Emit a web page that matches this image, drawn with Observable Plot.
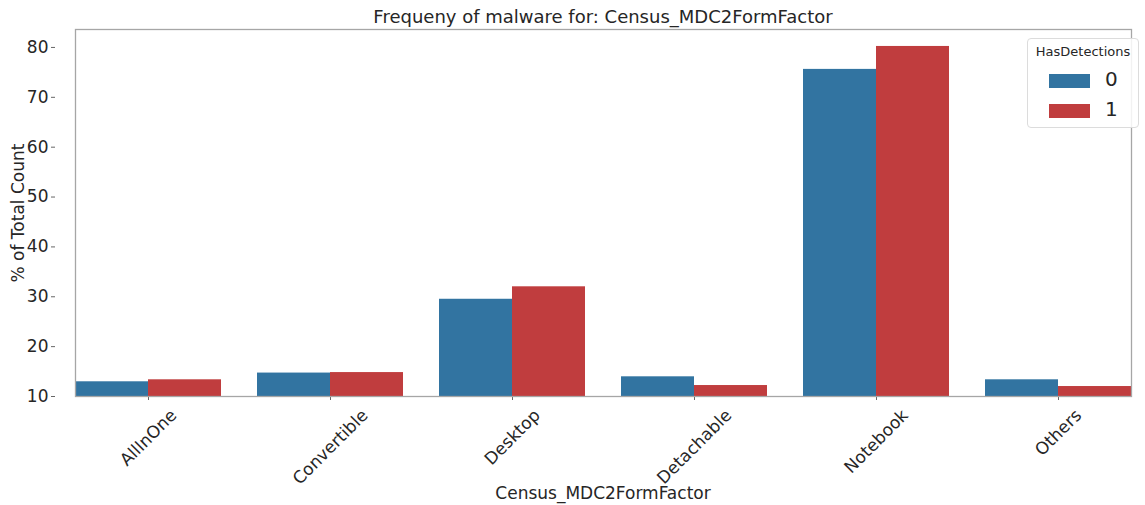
<!DOCTYPE html>
<html><head><meta charset="utf-8">
<script src="https://cdn.jsdelivr.net/npm/d3@7"></script>
<script src="https://cdn.jsdelivr.net/npm/@observablehq/plot@0.6"></script>
<style>
html,body{margin:0;padding:0;background:#fff;overflow:hidden;}
#wrap{position:relative;width:1145px;height:505px;overflow:hidden;font-family:"DejaVu Sans",sans-serif;color:#262626;}
#wrap svg{position:absolute;left:0;top:0;max-width:none !important;}
.title{position:absolute;left:0;width:1206px;top:6px;text-align:center;font-size:18px;white-space:nowrap;}
.xlabel{position:absolute;left:0;width:1206px;top:483px;text-align:center;font-size:17px;white-space:nowrap;}
.ylabel{position:absolute;left:18px;top:213px;transform:translate(-50%,-50%) rotate(-90deg);font-size:17px;white-space:nowrap;}
.legend{position:absolute;left:1027px;top:38px;width:112px;height:90px;border:1px solid #dcdcdc;border-radius:4px;background:rgba(255,255,255,0.85);box-sizing:border-box;}
.legend .lt{position:absolute;left:0;width:100%;top:5px;text-align:center;font-size:13px;}
.legend .row{position:absolute;left:21px;height:20px;}
.legend .sw{position:absolute;left:0;top:3px;width:41px;height:14px;}
.legend .lab{position:absolute;left:56px;top:-4px;font-size:20px;line-height:24px;}
</style>
</head><body>
<div id="wrap"></div>
<script>
const categories = ["AllInOne","Convertible","Desktop","Detachable","Notebook","Others"];
const detections = ["0","1"];
const pct0 = [12.95, 14.7, 29.5, 13.95, 75.6, 13.35];
const pct1 = [13.35, 14.8, 32.0, 12.2, 80.2, 12.0];
const colors = ["#3274a1","#c03d3e"];
const yTicks = [10,20,30,40,50,60,70,80];
const titleText = "Frequeny of malware for: Census_MDC2FormFactor";
const xLabel = "Census_MDC2FormFactor";
const yLabel = "% of Total Count";
const legendTitle = "HasDetections";

const rows = [];
categories.forEach((c,i)=>{
  rows.push({cat:c, det:detections[0], pct:pct0[i]});
  rows.push({cat:c, det:detections[1], pct:pct1[i]});
});

const wrap = document.getElementById("wrap");
const ML = 55;
const plot = Plot.plot({
  width: 1150, height: 505,
  marginLeft: ML, marginRight: 0, marginTop: 29, marginBottom: 109,
  style: {fontFamily: "DejaVu Sans, sans-serif", fontSize: "17px", color: "#262626", background: "transparent"},
  fx: {domain: categories, paddingInner: 0.2, paddingOuter: 0.1, label: null},
  x: {domain: detections, padding: 0, axis: null},
  y: {domain: [10, 83.6], label: null},
  color: {domain: detections, range: colors},
  marks: [
    Plot.barY(rows, {fx: "cat", x: "det", y: "pct", fill: "det", clip: true}),
    Plot.axisY({ticks: yTicks, tickSize: 4, tickPadding: 3, label: null, fontSize: 17, stroke: "#666"}),
    Plot.axisFx({anchor: "bottom", tickRotate: -45, tickSize: 4, label: null, fontSize: 17, stroke: "#666"}),
    Plot.frame({facet: "super", stroke: "#a6a6a6", strokeWidth: 1.3})
  ]
});
wrap.appendChild(plot);

const fx = plot.scale("fx");
// move the y axis from the first facet's edge to the frame's left edge
const yShift = ML - fx.apply(categories[0]);
plot.querySelectorAll('g[aria-label^="y-axis"]').forEach(g => {
  g.setAttribute("transform", `translate(${yShift},0) ` + (g.getAttribute("transform") || ""));
});

// matplotlib-style centred rotated labels
const yr = plot.scale("y").range;
const bottom = Math.max(...yr);
const svgRect = plot.getBoundingClientRect();
plot.querySelectorAll('g[aria-label="fx-axis tick label"] text').forEach(el => {
  el.setAttribute("text-anchor", "middle");
  const r = el.getBoundingClientRect();
  const cat = el.textContent;
  const cx = fx.apply(cat) + fx.bandwidth / 2;
  const sx = cx - (r.left + r.width/2 - svgRect.left);
  const sy = (bottom + 9) - (r.top - svgRect.top);
  el.setAttribute("transform", `translate(${sx},${sy}) ` + (el.getAttribute("transform") || ""));
});

function div(cls, text, parent) {
  const d = document.createElement("div");
  d.className = cls; if (text != null) d.textContent = text;
  (parent || wrap).appendChild(d); return d;
}
div("title", titleText);
div("xlabel", xLabel);
div("ylabel", yLabel);
const lg = div("legend");
div("lt", legendTitle, lg);
detections.forEach((d,i)=>{
  const row = div("row", null, lg);
  row.style.top = (32 + i*30) + "px";
  const sw = div("sw", null, row); sw.style.background = colors[i];
  div("lab", d, row);
});
</script>
</body></html>
